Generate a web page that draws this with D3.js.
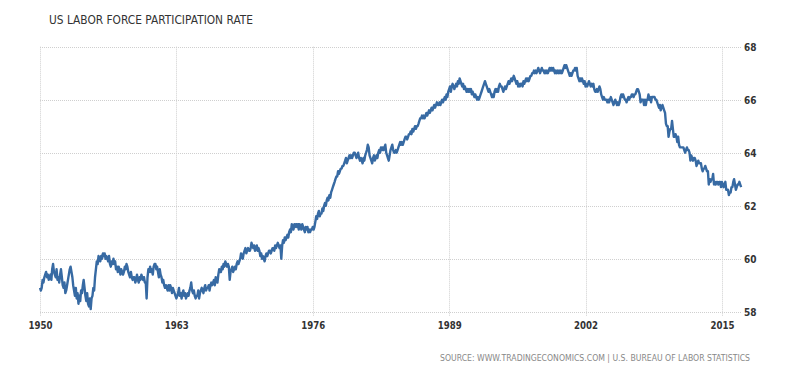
<!DOCTYPE html>
<html>
<head>
<meta charset="utf-8">
<script src="https://cdn.jsdelivr.net/npm/d3@7/dist/d3.min.js"></script>
<style>
  html, body { margin: 0; padding: 0; background: #fff; }
  svg { display: block; }
</style>
</head>
<body>
<svg id="chart" width="800" height="373"></svg>
<script>
// ---- DATA ----
const title = "US LABOR FORCE PARTICIPATION RATE";
const sourceText = "SOURCE: WWW.TRADINGECONOMICS.COM | U.S. BUREAU OF LABOR STATISTICS";
const startYear = 1950;
const xTickYears = [1950, 1963, 1976, 1989, 2002, 2015];
const yTicks = [58, 60, 62, 64, 66, 68];
// Monthly participation rate (%), Jan 1950 .. Nov 2016, one row per year
const rateByYear = [
  [58.9,58.8,58.9,59.2,59.1,59.3,59.4,59.5,59.3,59.4,59.2,59.3], // 1950
  [59.4,59.2,59.6,59.8,59.5,59.4,59.3,59.6,59.2,59.3,59.1,59.4], // 1951
  [59.6,59.3,59.0,58.9,59.1,58.7,58.8,59.0,59.2,59.4,59.6,59.7], // 1952
  [59.5,59.3,59.0,58.8,58.6,58.9,58.5,58.7,58.3,58.6,58.4,58.8], // 1953
  [58.7,59.0,59.2,58.9,58.6,58.4,58.7,58.3,58.2,58.5,58.1,58.5], // 1954
  [58.6,58.9,58.8,59.3,59.6,59.9,59.8,60.1,60.0,59.9,60.1,60.0], // 1955
  [60.2,60.1,60.2,60.0,60.1,60.0,59.9,60.1,59.8,59.7,59.9,59.8], // 1956
  [60.0,59.8,59.9,59.6,59.7,59.5,59.7,59.6,59.4,59.6,59.5,59.4], // 1957
  [59.5,59.7,59.6,59.8,59.7,59.5,59.4,59.3,59.5,59.3,59.2,59.3], // 1958
  [59.3,59.1,59.2,59.4,59.2,59.1,59.3,59.2,59.4,59.3,59.2,59.3], // 1959
  [59.1,59.1,58.5,59.3,59.6,59.5,59.7,59.5,59.6,59.4,59.7,59.8], // 1960
  [59.8,59.6,59.7,59.5,59.3,59.6,59.4,59.3,59.1,59.2,59.0,58.9], // 1961
  [59.0,58.9,58.8,59.0,58.8,59.0,58.9,58.7,58.9,58.8,58.7,58.6], // 1962
  [58.5,58.6,58.7,58.9,58.6,58.7,58.5,58.7,58.8,58.6,58.7,58.5], // 1963
  [58.6,58.7,58.6,58.8,58.9,59.1,58.8,58.7,58.8,58.6,58.5,58.6], // 1964
  [58.6,58.8,58.5,58.7,58.8,58.9,58.8,58.7,58.9,59.0,58.8,58.9], // 1965
  [58.9,59.0,58.8,59.0,59.1,59.0,59.1,59.2,59.0,59.3,59.2,59.1], // 1966
  [59.4,59.6,59.5,59.5,59.7,59.6,59.8,59.7,59.9,59.8,59.7,59.8], // 1967
  [59.7,59.2,59.5,59.6,59.7,59.5,59.6,59.7,59.6,59.8,59.9,59.8], // 1968
  [59.9,60.0,60.2,60.1,60.0,60.2,60.3,60.4,60.2,60.3,60.4,60.3], // 1969
  [60.3,60.4,60.6,60.5,60.4,60.5,60.3,60.4,60.5,60.3,60.4,60.3], // 1970
  [60.1,60.2,60.0,60.1,60.0,59.9,60.1,60.2,60.1,60.2,60.3,60.3], // 1971
  [60.2,60.3,60.4,60.4,60.3,60.5,60.4,60.5,60.6,60.5,60.4,60.5], // 1972
  [60.0,60.5,60.7,60.6,60.8,60.7,60.8,60.9,60.8,61.0,61.1,61.0], // 1973
  [61.3,61.2,61.1,61.3,61.2,61.3,61.2,61.3,61.1,61.3,61.2,61.1], // 1974
  [61.3,61.2,61.1,61.0,61.2,61.1,61.2,61.0,61.1,61.0,61.1,61.1], // 1975
  [61.2,61.1,61.2,61.4,61.6,61.5,61.7,61.8,61.6,61.7,61.7,61.9], // 1976
  [61.8,62.0,62.1,62.0,62.2,62.3,62.2,62.4,62.3,62.5,62.6,62.7], // 1977
  [62.8,62.9,63.0,63.1,63.1,63.3,63.2,63.3,63.4,63.4,63.5,63.5], // 1978
  [63.6,63.7,63.8,63.6,63.7,63.8,63.9,63.8,63.9,63.8,63.9,64.0], // 1979
  [64.0,63.9,63.8,63.9,64.0,63.8,63.7,63.8,63.7,63.6,63.8,63.7], // 1980
  [63.9,64.0,64.1,64.3,64.2,63.9,63.8,63.7,63.6,63.8,63.9,63.7], // 1981
  [63.8,63.9,63.8,64.0,64.1,64.0,64.2,64.1,64.2,64.1,64.2,64.3], // 1982
  [64.0,63.9,63.8,63.7,63.9,64.1,64.2,64.3,64.1,64.0,64.0,64.1], // 1983
  [64.0,64.1,64.2,64.3,64.4,64.3,64.4,64.3,64.4,64.5,64.6,64.6], // 1984
  [64.5,64.6,64.7,64.7,64.8,64.7,64.9,64.8,64.9,65.0,64.9,65.0], // 1985
  [65.0,65.1,65.2,65.3,65.3,65.4,65.3,65.4,65.3,65.4,65.5,65.4], // 1986
  [65.5,65.6,65.5,65.6,65.7,65.6,65.7,65.8,65.7,65.8,65.9,65.8], // 1987
  [65.8,65.9,65.8,65.9,66.0,65.9,66.0,66.1,66.0,66.2,66.1,66.3], // 1988
  [66.4,66.5,66.3,66.5,66.6,66.5,66.4,66.5,66.6,66.5,66.7,66.6], // 1989
  [66.8,66.7,66.6,66.5,66.6,66.4,66.5,66.4,66.3,66.4,66.3,66.4], // 1990
  [66.3,66.4,66.2,66.3,66.2,66.1,66.2,66.1,66.0,66.1,66.0,66.1], // 1991
  [66.2,66.3,66.4,66.5,66.6,66.7,66.6,66.5,66.4,66.3,66.4,66.3], // 1992
  [66.2,66.1,66.2,66.1,66.3,66.4,66.3,66.4,66.3,66.5,66.6,66.5], // 1993
  [66.5,66.4,66.3,66.4,66.5,66.4,66.5,66.6,66.7,66.6,66.7,66.8], // 1994
  [66.7,66.8,66.9,66.8,66.7,66.6,66.7,66.5,66.6,66.5,66.6,66.6], // 1995
  [66.5,66.7,66.6,66.7,66.8,66.7,66.8,66.7,66.8,66.9,66.9,67.0], // 1996
  [67.0,67.1,67.0,67.1,67.0,67.1,67.2,67.1,67.0,67.1,67.2,67.1], // 1997
  [67.1,67.0,67.1,67.0,67.1,67.0,67.1,67.2,67.1,67.2,67.1,67.2], // 1998
  [67.1,67.0,67.1,67.0,67.1,67.0,67.1,67.0,67.1,67.0,67.1,67.2], // 1999
  [67.3,67.2,67.3,67.2,67.1,67.0,66.9,67.0,66.9,67.0,67.1,67.1], // 2000
  [67.2,67.1,67.2,66.9,66.8,66.7,66.8,66.7,66.8,66.7,66.6,66.7], // 2001
  [66.5,66.6,66.5,66.6,66.7,66.6,66.5,66.6,66.5,66.6,66.4,66.3], // 2002
  [66.3,66.4,66.3,66.4,66.5,66.4,66.2,66.1,66.0,66.1,66.0,66.0], // 2003
  [66.0,65.9,66.0,65.9,66.0,66.1,66.0,65.9,65.8,65.9,66.0,65.9], // 2004
  [65.8,65.9,65.8,65.9,66.1,66.2,66.1,66.2,66.1,66.0,66.0,65.9], // 2005
  [66.0,66.1,66.0,66.1,66.1,66.2,66.2,66.1,66.2,66.2,66.3,66.4], // 2006
  [66.4,66.3,66.2,65.9,66.0,66.0,66.0,65.8,66.0,65.8,66.0,66.0], // 2007
  [66.2,66.0,66.1,65.9,66.1,66.1,66.1,66.1,66.0,66.0,65.9,65.8], // 2008
  [65.7,65.8,65.6,65.7,65.8,65.7,65.6,65.5,65.1,65.0,65.0,64.6], // 2009
  [64.8,64.9,64.9,65.2,64.9,64.6,64.6,64.7,64.6,64.4,64.6,64.3], // 2010
  [64.2,64.2,64.2,64.2,64.2,64.1,64.0,64.1,64.2,64.1,64.1,64.0], // 2011
  [63.7,63.9,63.8,63.7,63.8,63.8,63.7,63.5,63.6,63.7,63.6,63.6], // 2012
  [63.6,63.4,63.3,63.4,63.4,63.5,63.4,63.3,63.3,62.8,63.0,62.9], // 2013
  [63.0,63.0,63.2,62.8,62.9,62.8,62.9,62.9,62.8,62.9,62.9,62.7], // 2014
  [62.9,62.8,62.7,62.8,62.9,62.6,62.6,62.6,62.4,62.5,62.5,62.7], // 2015
  [62.7,62.9,63.0,62.8,62.6,62.7,62.8,62.8,62.9,62.8,62.7]       // 2016
];

// ---- BUILD ----
const series = [];
rateByYear.forEach((row, i) => {
  row.forEach((v, m) => series.push({ date: new Date(startYear + i, m, 1), value: v }));
});

const svg = d3.select("#chart");
const plotLeft = 40, plotRight = 742, plotTop = 46.7, plotBottom = 311.7;

const x = d3.scaleTime()
  .domain([new Date(1950, 0, 1), new Date(2016, 11, 1)])
  .range([plotLeft, plotRight]);
const y = d3.scaleLinear().domain([58, 68]).range([plotBottom, plotTop]);

const gridColor = "#cfcfcf";

// horizontal gridlines
svg.append("g").selectAll("line").data(yTicks).join("line")
  .attr("x1", plotLeft).attr("x2", plotRight)
  .attr("y1", d => Math.round(y(d)) + 0.5).attr("y2", d => Math.round(y(d)) + 0.5)
  .attr("stroke", gridColor).attr("stroke-width", 1)
  .attr("stroke-dasharray", "1,1");

// vertical gridlines
svg.append("g").selectAll("line").data(xTickYears).join("line")
  .attr("x1", d => Math.round(x(new Date(d, 0, 1))) + 0.5)
  .attr("x2", d => Math.round(x(new Date(d, 0, 1))) + 0.5)
  .attr("y1", plotTop).attr("y2", plotBottom + 5)
  .attr("stroke", gridColor).attr("stroke-width", 1)
  .attr("stroke-dasharray", "1,1");

// x labels
const xAxis = d3.axisBottom(x)
  .tickValues(xTickYears.map(yy => new Date(yy, 0, 1)))
  .tickFormat(d3.timeFormat("%Y"))
  .tickSize(0).tickPadding(0);
const gx = svg.append("g").attr("transform", `translate(0,${plotBottom})`).call(xAxis);
gx.select(".domain").remove();
gx.selectAll("text")
  .attr("y", 17.5).attr("dy", null)
  .attr("font-family", "'DejaVu Sans', Verdana, sans-serif")
  .attr("font-size", 11).attr("font-weight", "bold").attr("fill", "#333")
  .attr("textLength", 24).attr("lengthAdjust", "spacingAndGlyphs");

// y labels (right)
const yAxis = d3.axisRight(y).tickValues(yTicks).tickSize(0).tickPadding(0);
const gy = svg.append("g").attr("transform", `translate(${plotRight + 2},0)`).call(yAxis);
gy.select(".domain").remove();
gy.selectAll("text")
  .attr("x", 0).attr("dy", "0.36em")
  .attr("font-family", "'DejaVu Sans', Verdana, sans-serif")
  .attr("font-size", 11).attr("font-weight", "bold").attr("fill", "#333")
  .attr("textLength", 12.5).attr("lengthAdjust", "spacingAndGlyphs");

// line
const line = d3.line().x(d => x(d.date)).y(d => y(d.value));
svg.append("path").datum(series)
  .attr("d", line)
  .attr("fill", "none")
  .attr("stroke", "#376aa3")
  .attr("stroke-width", 2.4)
  .attr("stroke-linejoin", "round");

// title
svg.append("text")
  .attr("x", 49).attr("y", 24)
  .attr("font-family", "'DejaVu Sans', Verdana, sans-serif")
  .attr("font-size", 11.5).attr("fill", "#333")
  .attr("textLength", 204).attr("lengthAdjust", "spacingAndGlyphs")
  .text(title);

// source
svg.append("text")
  .attr("x", 440).attr("y", 360.5)
  .attr("font-family", "'DejaVu Sans', Verdana, sans-serif")
  .attr("font-size", 9).attr("fill", "#888")
  .attr("textLength", 310).attr("lengthAdjust", "spacingAndGlyphs")
  .text(sourceText);
</script>
</body>
</html>
